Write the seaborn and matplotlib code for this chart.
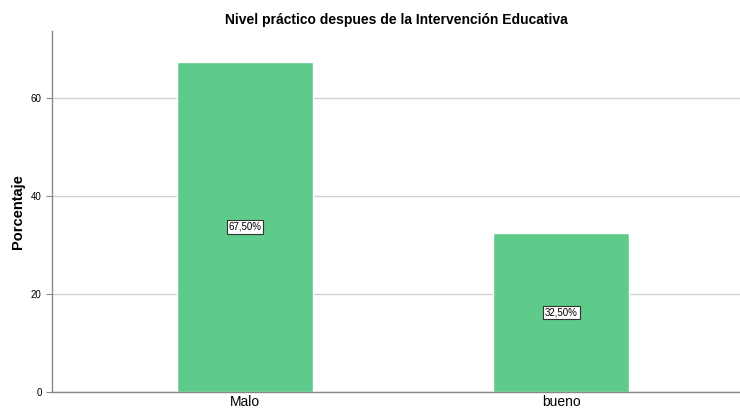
import matplotlib
matplotlib.use("Agg")
import matplotlib.pyplot as plt
import seaborn as sns
import pandas as pd

categorias = ["Malo", "bueno"]
porcentajes = [67.5, 32.5]
etiquetas = ["67,50%", "32,50%"]

sns.set_style("white")
plt.rcParams['font.family'] = ['Arial', 'Liberation Sans', 'DejaVu Sans']
plt.rcParams['text.color'] = 'black'
plt.rcParams['axes.labelcolor'] = 'black'
plt.rcParams['xtick.color'] = 'black'
plt.rcParams['ytick.color'] = 'black'

df = pd.DataFrame({"nivel": categorias, "pct": porcentajes})

fig = plt.figure(figsize=(7.4, 4.11), dpi=100)
ax = fig.add_axes([0.0703, 0.0462, 0.93, 0.878])

sns.barplot(data=df, x="nivel", y="pct", color="#5ECB8B", saturation=1,
            width=0.43, ax=ax, zorder=2)

ax.set_xlim(-0.61, 1.566)
ax.set_ylim(0, 73.7)
ax.set_yticks([0, 20, 40, 60])
ax.yaxis.grid(True, color="#d0d0d0", linewidth=1, zorder=0)
ax.set_axisbelow(True)

for i, (v, t) in enumerate(zip(porcentajes, etiquetas)):
    ax.text(i, v / 2, t, ha="center", va="center", fontsize=7, zorder=3,
            bbox=dict(boxstyle="square,pad=0.2", facecolor="white",
                      edgecolor="#333333", linewidth=0.8))

for s in ["top", "right"]:
    ax.spines[s].set_visible(False)
for s in ["left", "bottom"]:
    ax.spines[s].set_color("#888888")
    ax.spines[s].set_linewidth(1)

ax.tick_params(axis="y", labelsize=7, length=4, color="#888888", left=True)
ax.tick_params(axis="x", labelsize=10, length=0, pad=2.5)
ax.set_xlabel("")
ax.set_ylabel("Porcentaje", fontsize=10.5, fontweight="bold")
ax.set_title("Nivel práctico despues de la Intervención Educativa",
             fontsize=10, fontweight="bold", pad=5)

fig.savefig("out.png", dpi=100)
